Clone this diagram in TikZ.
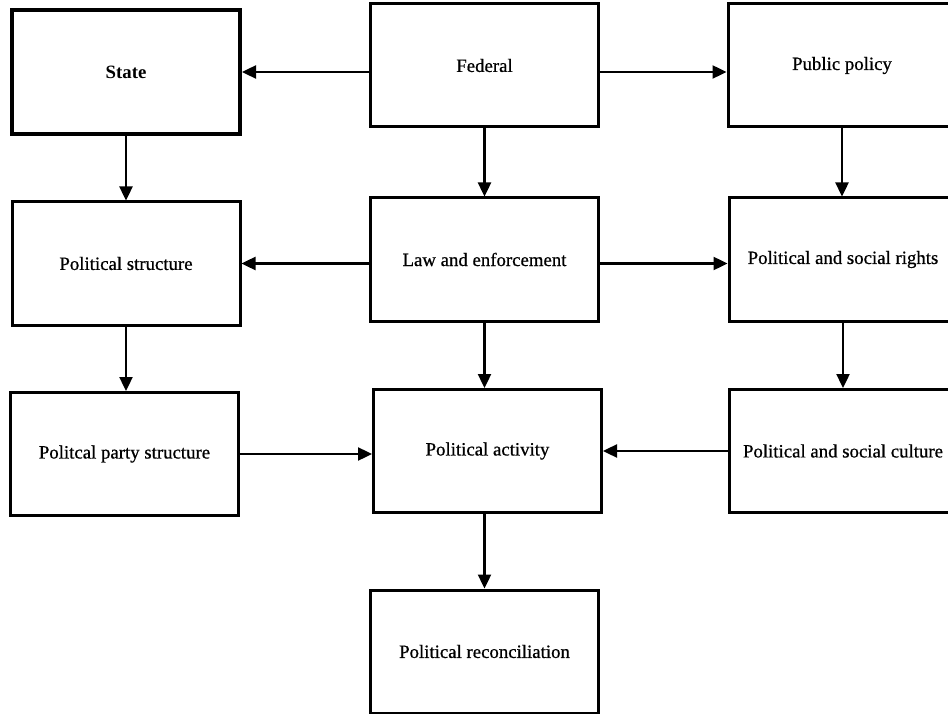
\documentclass[tikz,border=0pt]{standalone}
\usepackage{fontspec}
\setmainfont{Liberation Serif}
\newfontfamily\boxfont[FakeBold=0.7]{Liberation Serif}
\usetikzlibrary{arrows.meta}
\begin{document}
\begin{tikzpicture}[x=1pt,y=-1pt,
  box/.style={draw=black,line width=3pt,rectangle,minimum width=228pt,minimum height=123pt,inner sep=0pt,align=center,font=\boxfont\fontsize{18.8}{22}\selectfont},
  arr/.style={line width=2.4pt,-{Triangle[length=14pt,width=13pt]}}]
\useasboundingbox (0,0) rectangle (948,714);
\fill[white] (0,0) rectangle (948,714);
\node[box,line width=4pt,minimum height=124pt,font=\fontsize{18.8}{22}\selectfont\bfseries] (state) at (126,72) {State};
\node[box] (fed) at (484.5,65.5) {Federal};
\node[box] (pub) at (842,65.5) {Public policy};
\node[box] (pstruct) at (126,263.5) {Political structure};
\node[box] (law) at (484.5,259.5) {Law and enforcement};
\node[box] (rights) at (843,259.5) {Political and social rights};
\node[box] (party) at (124.5,454) {Politcal party structure};
\node[box] (act) at (487.5,451) {Political activity};
\node[box] (culture) at (843,451) {Political and social culture};
\node[box] (recon) at (484.5,651.5) {Political reconciliation};
\draw[arr] (fed.west |- state.east) -- (state.east);
\draw[arr] (fed.east |- state.east) -- (pub.west |- state.east);
\draw[arr] (fed.south) -- (fed.south |- law.north);
\draw[arr] (state.south) -- (state.south |- pstruct.north);
\draw[arr] (pub.south) -- (pub.south |- rights.north);
\draw[arr] (law.west |- pstruct.east) -- (pstruct.east);
\draw[arr] (law.east |- pstruct.east) -- (rights.west |- pstruct.east);
\draw[arr] (pstruct.south) -- (pstruct.south |- party.north);
\draw[arr] (rights.south) -- (rights.south |- culture.north);
\draw[arr] (party.east) -- (act.west |- party.east);
\draw[arr] (culture.west) -- (act.east |- culture.west);
\draw[arr] (law.south) -- (law.south |- act.north);
\draw[arr] (recon.north |- act.south) -- (recon.north);
\end{tikzpicture}
\end{document}
